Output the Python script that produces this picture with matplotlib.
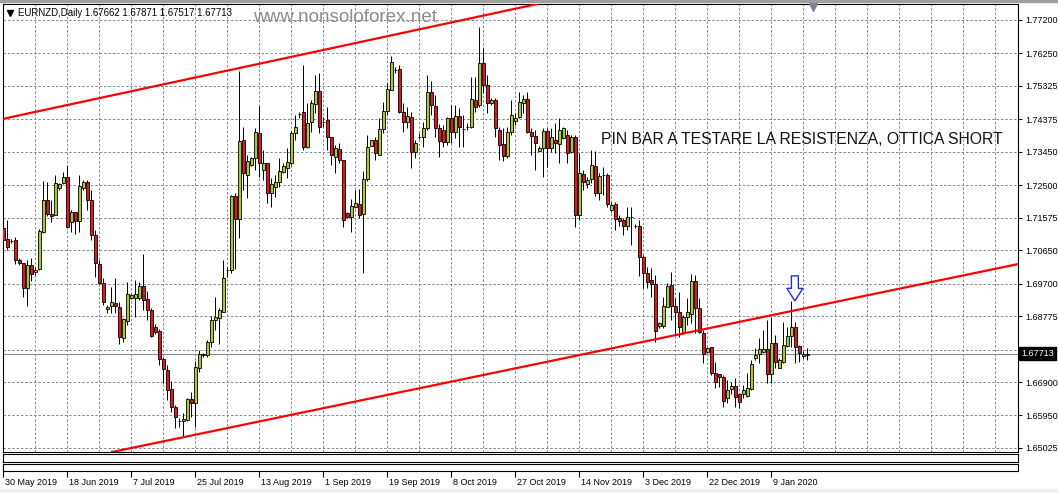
import matplotlib
matplotlib.use("Agg")
import matplotlib.pyplot as plt
import matplotlib.transforms as mtransforms
from matplotlib.lines import Line2D
from matplotlib.patches import Rectangle
import numpy as np

plt.rcParams['font.family'] = ['Liberation Sans', 'DejaVu Sans']

# Candele giornaliere EURNZD (apertura, massimo, minimo, chiusura)
apertura = [
    1.7128, 1.7097, 1.7091, 1.7094, 1.7037, 1.7028, 1.6957, 1.7023, 1.7003, 1.7011,
    1.7117, 1.7208, 1.7169, 1.7166, 1.7242, 1.7256, 1.7273, 1.7145, 1.7174, 1.7148,
    1.7242, 1.7259, 1.7208, 1.7109, 1.7026, 1.6972, 1.6898, 1.6907, 1.6915, 1.6904,
    1.6815, 1.6864, 1.6929, 1.6929, 1.6929, 1.6963, 1.6926, 1.6895, 1.6847, 1.6835,
    1.6756, 1.6724, 1.6670, 1.6619, 1.6579, 1.6579, 1.6582, 1.6642, 1.6630, 1.6730,
    1.6767, 1.6767, 1.6804, 1.6867, 1.6872, 1.6889, 1.7009, 1.7009, 1.7219, 1.7154,
    1.7379, 1.7279, 1.7308, 1.7327, 1.7398, 1.7293, 1.7313, 1.7227, 1.7245, 1.7259,
    1.7287, 1.7299, 1.7313, 1.7398, 1.7453, 1.7458, 1.7359, 1.7430, 1.7481, 1.7518,
    1.7430, 1.7436, 1.7387, 1.7330, 1.7353, 1.7322, 1.7171, 1.7160, 1.7188, 1.7197,
    1.7169, 1.7267, 1.7362, 1.7379, 1.7336, 1.7410, 1.7461, 1.7521, 1.7578, 1.7580,
    1.7458, 1.7430, 1.7444, 1.7344, 1.7387, 1.7387, 1.7413, 1.7515, 1.7475, 1.7413,
    1.7407, 1.7373, 1.7441, 1.7401, 1.7447, 1.7410, 1.7416, 1.7416, 1.7492, 1.7478,
    1.7597, 1.7535, 1.7483, 1.7492, 1.7407, 1.7368, 1.7333, 1.7401, 1.7433, 1.7444,
    1.7483, 1.7495, 1.7401, 1.7390, 1.7347, 1.7356, 1.7404, 1.7356, 1.7379, 1.7368,
    1.7384, 1.7393, 1.7344, 1.7387, 1.7166, 1.7282, 1.7254, 1.7267, 1.7305, 1.7227,
    1.7279, 1.7279, 1.7180, 1.7197, 1.7157, 1.7151, 1.7134, 1.7160, 1.7134, 1.7134,
    1.7046, 1.7000, 1.6980, 1.6969, 1.6850, 1.6850, 1.6904, 1.6966, 1.6907, 1.6889,
    1.6832, 1.6875, 1.6884, 1.6977, 1.6901, 1.6829, 1.6775, 1.6790, 1.6715, 1.6713,
    1.6704, 1.6645, 1.6670, 1.6679, 1.6657, 1.6657, 1.6651, 1.6670, 1.6758, 1.6770,
    1.6775, 1.6784, 1.6713, 1.6801, 1.6730, 1.6747, 1.6793, 1.6821, 1.6847, 1.6793,
    1.6764, 1.67662,
]
massimo = [
    1.7145, 1.7151, 1.7097, 1.7103, 1.7043, 1.7028, 1.7037, 1.7043, 1.7017, 1.7125,
    1.7262, 1.7259, 1.7208, 1.7279, 1.7256, 1.7287, 1.7308, 1.7180, 1.7174, 1.7279,
    1.7265, 1.7265, 1.7236, 1.7123, 1.7037, 1.6986, 1.6910, 1.6960, 1.6986, 1.6918,
    1.6872, 1.6974, 1.6941, 1.6980, 1.6974, 1.7055, 1.6949, 1.6901, 1.6856, 1.6841,
    1.6761, 1.6739, 1.6693, 1.6625, 1.6588, 1.6602, 1.6645, 1.6662, 1.6750, 1.6781,
    1.6772, 1.6810, 1.6878, 1.6932, 1.6901, 1.7037, 1.7017, 1.7222, 1.7227, 1.7575,
    1.7416, 1.7336, 1.7330, 1.7413, 1.7475, 1.7350, 1.7313, 1.7270, 1.7279, 1.7327,
    1.7313, 1.7356, 1.7404, 1.7450, 1.7458, 1.7592, 1.7483, 1.7492, 1.7564, 1.7569,
    1.7444, 1.7472, 1.7387, 1.7364, 1.7370, 1.7322, 1.7174, 1.7211, 1.7236, 1.7239,
    1.7290, 1.7393, 1.7379, 1.7387, 1.7441, 1.7486, 1.7540, 1.7617, 1.7586, 1.7592,
    1.7483, 1.7472, 1.7458, 1.7379, 1.7398, 1.7430, 1.7564, 1.7546, 1.7507, 1.7425,
    1.7422, 1.7444, 1.7478, 1.7478, 1.7469, 1.7450, 1.7427, 1.7558, 1.7558, 1.7700,
    1.7640, 1.7564, 1.7498, 1.7498, 1.7416, 1.7413, 1.7416, 1.7492, 1.7455, 1.7515,
    1.7507, 1.7515, 1.7413, 1.7407, 1.7362, 1.7413, 1.7413, 1.7413, 1.7427, 1.7441,
    1.7416, 1.7407, 1.7393, 1.7393, 1.7341, 1.7293, 1.7273, 1.7350, 1.7347, 1.7284,
    1.7302, 1.7284, 1.7202, 1.7202, 1.7166, 1.7157, 1.7188, 1.7188, 1.7140, 1.7151,
    1.7052, 1.7017, 1.7014, 1.6995, 1.6861, 1.6932, 1.6972, 1.7003, 1.6929, 1.6946,
    1.6881, 1.6929, 1.6997, 1.6995, 1.6929, 1.6838, 1.6790, 1.6790, 1.6747, 1.6713,
    1.6710, 1.6696, 1.6690, 1.6701, 1.6659, 1.6682, 1.6715, 1.6753, 1.6787, 1.6815,
    1.6838, 1.6867, 1.6875, 1.6824, 1.6758, 1.6861, 1.6847, 1.6921, 1.6861, 1.6795,
    1.6778, 1.67871,
]
minimo = [
    1.7043, 1.7066, 1.7085, 1.7026, 1.7023, 1.6932, 1.6907, 1.6977, 1.6995, 1.7009,
    1.7114, 1.7163, 1.7145, 1.7166, 1.7236, 1.7254, 1.7128, 1.7117, 1.7112, 1.7117,
    1.7236, 1.7180, 1.7094, 1.6989, 1.6969, 1.6910, 1.6886, 1.6886, 1.6886, 1.6799,
    1.6804, 1.6853, 1.6926, 1.6875, 1.6924, 1.6895, 1.6867, 1.6818, 1.6827, 1.6739,
    1.6687, 1.6639, 1.6605, 1.6559, 1.6562, 1.6534, 1.6579, 1.6591, 1.6562, 1.6718,
    1.6761, 1.6761, 1.6790, 1.6838, 1.6799, 1.6889, 1.6989, 1.7000, 1.7011, 1.7100,
    1.7236, 1.7213, 1.7305, 1.7293, 1.7273, 1.7265, 1.7199, 1.7188, 1.7216, 1.7245,
    1.7284, 1.7270, 1.7308, 1.7379, 1.7441, 1.7350, 1.7356, 1.7401, 1.7455, 1.7398,
    1.7416, 1.7350, 1.7308, 1.7284, 1.7313, 1.7131, 1.7157, 1.7117, 1.7185, 1.7157,
    1.7000, 1.7262, 1.7362, 1.7322, 1.7336, 1.7398, 1.7450, 1.7521, 1.7569, 1.7455,
    1.7401, 1.7413, 1.7299, 1.7327, 1.7381, 1.7359, 1.7407, 1.7450, 1.7387, 1.7330,
    1.7359, 1.7364, 1.7370, 1.7384, 1.7359, 1.7359, 1.7407, 1.7413, 1.7458, 1.7472,
    1.7512, 1.7455, 1.7478, 1.7387, 1.7322, 1.7319, 1.7327, 1.7393, 1.7422, 1.7441,
    1.7455, 1.7398, 1.7336, 1.7293, 1.7347, 1.7273, 1.7302, 1.7344, 1.7341, 1.7313,
    1.7381, 1.7313, 1.7341, 1.7131, 1.7151, 1.7236, 1.7242, 1.7256, 1.7219, 1.7208,
    1.7222, 1.7188, 1.7174, 1.7123, 1.7134, 1.7109, 1.7123, 1.7080, 1.7128, 1.6992,
    1.6957, 1.6957, 1.6932, 1.6804, 1.6844, 1.6844, 1.6904, 1.6867, 1.6824, 1.6818,
    1.6829, 1.6853, 1.6858, 1.6829, 1.6829, 1.6744, 1.6772, 1.6710, 1.6673, 1.6676,
    1.6619, 1.6630, 1.6657, 1.6619, 1.6616, 1.6645, 1.6648, 1.6668, 1.6753, 1.6744,
    1.6772, 1.6687, 1.6687, 1.6730, 1.6730, 1.6744, 1.6790, 1.6790, 1.6744, 1.6747,
    1.6758, 1.67517,
]
chiusura = [
    1.7094, 1.7074, 1.7091, 1.7037, 1.7028, 1.6957, 1.7023, 1.6998, 1.7009, 1.7120,
    1.7208, 1.7169, 1.7163, 1.7256, 1.7254, 1.7273, 1.7131, 1.7174, 1.7148, 1.7248,
    1.7259, 1.7208, 1.7109, 1.7028, 1.6972, 1.6918, 1.6904, 1.6918, 1.6907, 1.6818,
    1.6869, 1.6941, 1.6938, 1.6941, 1.6963, 1.6924, 1.6895, 1.6821, 1.6832, 1.6756,
    1.6727, 1.6668, 1.6619, 1.6591, 1.6579, 1.6585, 1.6642, 1.6630, 1.6733, 1.6770,
    1.6770, 1.6804, 1.6867, 1.6875, 1.6895, 1.6986, 1.7009, 1.7219, 1.7154, 1.7376,
    1.7284, 1.7319, 1.7327, 1.7401, 1.7313, 1.7313, 1.7227, 1.7254, 1.7259, 1.7290,
    1.7305, 1.7316, 1.7398, 1.7416, 1.7453, 1.7359, 1.7427, 1.7483, 1.7518, 1.7416,
    1.7430, 1.7387, 1.7336, 1.7356, 1.7322, 1.7151, 1.7160, 1.7191, 1.7199, 1.7166,
    1.7267, 1.7359, 1.7379, 1.7341, 1.7410, 1.7461, 1.7523, 1.7600, 1.7578, 1.7458,
    1.7430, 1.7447, 1.7344, 1.7370, 1.7387, 1.7413, 1.7515, 1.7478, 1.7413, 1.7376,
    1.7373, 1.7441, 1.7401, 1.7447, 1.7416, 1.7410, 1.7416, 1.7495, 1.7472, 1.7597,
    1.7535, 1.7483, 1.7492, 1.7413, 1.7364, 1.7333, 1.7401, 1.7450, 1.7441, 1.7486,
    1.7495, 1.7401, 1.7390, 1.7370, 1.7356, 1.7404, 1.7356, 1.7387, 1.7370, 1.7407,
    1.7413, 1.7341, 1.7387, 1.7166, 1.7284, 1.7259, 1.7265, 1.7308, 1.7227, 1.7276,
    1.7279, 1.7197, 1.7194, 1.7154, 1.7148, 1.7134, 1.7160, 1.7160, 1.7134, 1.7046,
    1.7000, 1.6974, 1.6969, 1.6835, 1.6858, 1.6907, 1.6963, 1.6907, 1.6889, 1.6847,
    1.6875, 1.6889, 1.6977, 1.6901, 1.6832, 1.6770, 1.6787, 1.6715, 1.6690, 1.6704,
    1.6636, 1.6668, 1.6679, 1.6648, 1.6633, 1.6668, 1.6673, 1.6741, 1.6767, 1.6784,
    1.6784, 1.6713, 1.6801, 1.6747, 1.6753, 1.6795, 1.6821, 1.6847, 1.6790, 1.6772,
    1.6770, 1.67713,
]

# Etichette dell'asse dei tempi (una ogni 16 candele)
date_etichette = ["30 May 2019", "18 Jun 2019", "7 Jul 2019", "25 Jul 2019",
                  "13 Aug 2019", "1 Sep 2019", "19 Sep 2019", "8 Oct 2019",
                  "27 Oct 2019", "14 Nov 2019", "3 Dec 2019", "22 Dec 2019",
                  "9 Jan 2020"]

# Livelli di prezzo sulla scala destra
livelli_prezzo = [1.77200, 1.76250, 1.75325, 1.74375, 1.73450, 1.72500, 1.71575,
                  1.70650, 1.69700, 1.68775, 1.67825, 1.66900, 1.65950, 1.65025]

# Trendline del canale (candela, prezzo)
canale_alto = [(0, 1.7439), (130, 1.7757)]
canale_basso = [(28, 1.6493), (250, 1.7017)]
candela_pin = 197

verde = "#a8c83a"
rosso = "#e3161b"
griglia = "#778899"

fig = plt.figure(figsize=(10.58, 4.93), dpi=100)
ax = fig.add_axes([0.00255, 0.08316, 0.95964, 0.90872])

# Candele
x = np.arange(len(chiusura))
o = np.array(apertura)
c = np.array(chiusura)
colori = np.where(c >= o, verde, rosso)
ax.vlines(x, minimo, massimo, color="black", lw=0.7, zorder=2)
ax.bar(x, c - o, bottom=o, width=0.62, color=colori, edgecolor="black",
       linewidth=0.6, zorder=3)

# Linea dell'ultimo prezzo
ax.axhline(chiusura[-1], color="#8c8c8c", lw=0.8, zorder=1.5)

# Canale
ax.axline(canale_alto[0], canale_alto[1], color="red", lw=1.6, zorder=4)
ax.axline(canale_basso[0], canale_basso[1], color="red", lw=1.6, zorder=4)

# Freccia sopra la pin bar
ax.annotate("", xy=(candela_pin + 0.9, massimo[candela_pin]), xytext=(0, 18),
            textcoords="offset points", zorder=6,
            arrowprops=dict(arrowstyle="simple,head_length=0.9,head_width=1.15,tail_width=0.5",
                            fc="white", ec="#1f2fd8", lw=1.0, shrinkA=0, shrinkB=0,
                            mutation_scale=10))

ax.set_xlim(-0.15, 253.68)
ax.set_ylim(1.64911, 1.77655)

# Griglia tratteggiata
ax.set_xticks(np.arange(0, 254, 8))
ax.tick_params(axis="x", length=0, labelbottom=False)
ax.yaxis.tick_right()
ax.set_yticks(livelli_prezzo)
ax.set_yticklabels([f"{v:.5f}" for v in livelli_prezzo])
ax.tick_params(axis="y", direction="out", length=3, width=0.8, pad=2, labelsize=6.5)
ax.grid(True, color=griglia, linestyle=(0, (2.5, 2)), lw=0.7)
ax.set_axisbelow(True)
for s in ax.spines.values():
    s.set_linewidth(0.8)

# Etichetta nera del prezzo corrente
trans = mtransforms.blended_transform_factory(ax.transAxes, ax.transData)
ax.text(1.003, chiusura[-1], f"{chiusura[-1]:.5f}", transform=trans, ha="left",
        va="center", fontsize=6.5, color="white", zorder=10, clip_on=False,
        bbox=dict(boxstyle="square,pad=0.25", fc="black", ec="black"))

# Testi
fig.text(18 / 1058, 1 - 13 / 493, "EURNZD,Daily 1.67662 1.67871 1.67517 1.67713",
         fontsize=6.9, va="center")
fig.add_artist(Line2D([10 / 1058], [1 - 13 / 493], marker="v", ms=4.5, color="black",
                      transform=fig.transFigure))
fig.text(253 / 1058, 1 - 22 / 493, "www.nonsoloforex.net", fontsize=13.6,
         color="#8c8c8c", va="baseline")
fig.text(601 / 1058, 1 - 144 / 493, "PIN BAR A TESTARE LA RESISTENZA, OTTICA SHORT",
         fontsize=11.3, va="baseline", color="#111111")
fig.add_artist(Line2D([813 / 1058], [1 - 7 / 493], marker="v", ms=6, color="#7a8594",
                      transform=fig.transFigure))

# Sottofinestre vuote e asse dei tempi
ax_b1 = fig.add_axes([0.00255, 0.06288, 0.95964, 0.01623])
ax_b1.set_xticks([])
ax_b1.set_yticks([])
ax_b2 = fig.add_axes([0.00255, 0.04462, 0.95964, 0.0142])
ax_b2.set_xlim(ax.get_xlim())
ax_b2.set_yticks([])
ax_b2.set_xticks(np.arange(0, len(date_etichette) * 16, 16))
ax_b2.set_xticklabels(date_etichette, ha="left")
ax_b2.tick_params(axis="x", length=4, width=0.8, pad=1, labelsize=6.5)
spost = mtransforms.ScaledTranslation(2 / 100, 0, fig.dpi_scale_trans)
for lab in ax_b2.get_xticklabels():
    lab.set_transform(lab.get_transform() + spost)
for a in (ax_b1, ax_b2):
    for s in a.spines.values():
        s.set_linewidth(0.8)

# Cornice della finestra
fig.add_artist(Rectangle((0, 1 - 2 / 493), 1, 2 / 493, transform=fig.transFigure,
                         color="#a0a0a0"))
fig.add_artist(Rectangle((0, 0), 1, 4 / 493, transform=fig.transFigure, color="#f0f0f0"))

fig.savefig("out.png", dpi=100)
